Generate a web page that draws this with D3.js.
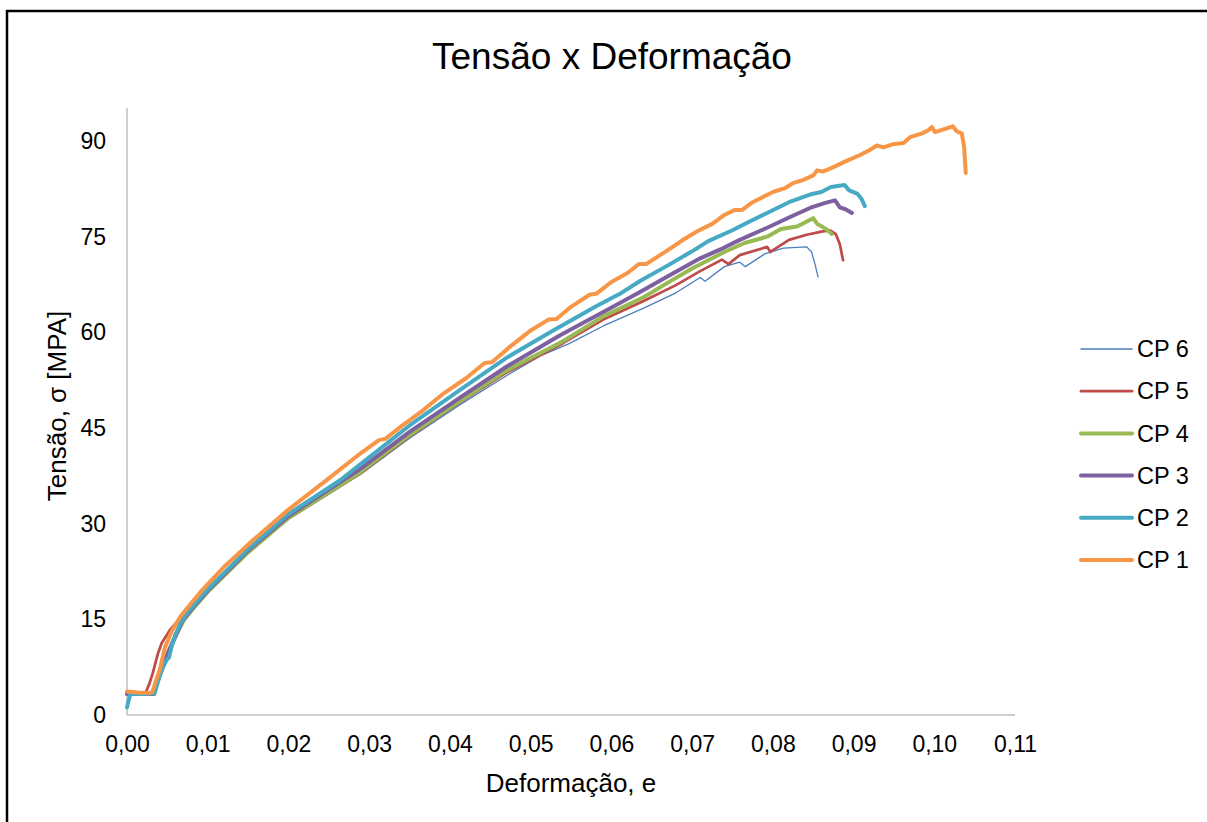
<!DOCTYPE html>
<html>
<head>
<meta charset="utf-8">
<script src="https://cdn.jsdelivr.net/npm/d3@7"></script>
<style>
  html, body { margin: 0; padding: 0; background: #fff; }
  svg { display: block; }
  text { font-family: "Liberation Sans", Arial, sans-serif; fill: #000; }
</style>
</head>
<body>
<svg id="chart" width="1207" height="822"></svg>
<script>
// Stress–strain curves for six specimens: [strain, stress in MPa]
const cp1 = [
  [0.0000,3.7],[0.0016,3.5],[0.0031,3.5],[0.0036,5.4],[0.0041,7.3],[0.0047,10.6],[0.0056,13.3],[0.0066,15.4],
  [0.0080,17.6],[0.0094,19.7],[0.0120,23.2],[0.0156,27.4],[0.0200,32.2],[0.0248,36.9],[0.0289,41.0],[0.0312,43.1],
  [0.0320,43.3],[0.0340,45.3],[0.0365,47.6],[0.0391,50.3],[0.0420,52.8],[0.0443,55.2],[0.0452,55.3],[0.0475,57.8],
  [0.0499,60.2],[0.0522,62.0],[0.0532,62.1],[0.0550,64.0],[0.0573,65.9],[0.0582,66.1],[0.0600,67.9],[0.0620,69.3],
  [0.0634,70.7],[0.0643,70.7],[0.0670,72.9],[0.0690,74.6],[0.0707,75.9],[0.0725,77.0],[0.0740,78.4],[0.0753,79.2],
  [0.0762,79.2],[0.0775,80.4],[0.0800,82.0],[0.0815,82.6],[0.0825,83.4],[0.0838,83.9],[0.0850,84.6],[0.0855,85.4],
  [0.0862,85.2],[0.0875,85.9],[0.0890,86.8],[0.0908,87.8],[0.0920,88.6],[0.0929,89.3],[0.0937,89.0],[0.0949,89.5],
  [0.0962,89.7],[0.0970,90.6],[0.0985,91.2],[0.0993,91.7],[0.0997,92.2],[0.1001,91.4],[0.1011,91.8],[0.1023,92.3],
  [0.1028,91.5],[0.1034,91.2],[0.1037,89.1],[0.1038,87.0],[0.1039,85.0]
];
const cp2 = [
  [0.0000,1.2],[0.0004,3.3],[0.0020,3.3],[0.0034,3.4],[0.0038,5.2],[0.0043,7.1],[0.0049,8.6],[0.0052,9.0],
  [0.0055,10.6],[0.0060,12.6],[0.0066,14.4],[0.0078,16.5],[0.0100,19.7],[0.0150,26.0],[0.0200,31.5],[0.0264,36.8],
  [0.0289,39.3],[0.0350,45.4],[0.0413,51.0],[0.0470,56.0],[0.0528,60.3],[0.0580,64.0],[0.0610,66.0],[0.0635,68.0],
  [0.0670,70.5],[0.0700,72.7],[0.0720,74.3],[0.0750,76.0],[0.0770,77.3],[0.0793,78.7],[0.0820,80.4],[0.0846,81.6],
  [0.0860,82.0],[0.0872,82.8],[0.0889,83.1],[0.0894,82.3],[0.0905,81.7],[0.0910,80.9],[0.0914,79.8]
];
const cp3 = [
  [0.0000,3.3],[0.0033,3.3],[0.0038,5.5],[0.0044,7.5],[0.0050,9.5],[0.0057,11.5],[0.0068,14.6],[0.0080,16.6],
  [0.0100,19.5],[0.0150,25.8],[0.0200,31.2],[0.0272,37.2],[0.0289,38.6],[0.0350,44.4],[0.0413,49.8],[0.0470,54.6],
  [0.0536,59.5],[0.0590,63.2],[0.0635,66.3],[0.0670,68.8],[0.0710,71.6],[0.0735,73.0],[0.0759,74.5],[0.0793,76.4],
  [0.0820,78.0],[0.0846,79.5],[0.0865,80.3],[0.0877,80.7],[0.0883,79.6],[0.0890,79.3],[0.0898,78.7]
];
const cp4 = [
  [0.0000,3.3],[0.0034,3.3],[0.0039,5.5],[0.0045,7.6],[0.0052,10.0],[0.0060,12.3],[0.0070,14.8],[0.0082,16.7],
  [0.0100,19.3],[0.0150,25.5],[0.0200,30.9],[0.0276,37.0],[0.0289,38.1],[0.0350,43.9],[0.0413,49.3],[0.0470,54.0],
  [0.0540,58.6],[0.0590,62.5],[0.0640,65.5],[0.0670,67.8],[0.0700,70.0],[0.0740,72.6],[0.0765,74.0],[0.0793,75.0],
  [0.0810,76.2],[0.0830,76.6],[0.0850,77.9],[0.0855,77.0],[0.0862,76.5],[0.0868,76.0],[0.0873,75.4]
];
const cp5 = [
  [0.0000,3.5],[0.0023,3.5],[0.0028,5.0],[0.0032,6.6],[0.0038,9.5],[0.0043,11.3],[0.0053,13.3],[0.0066,15.2],
  [0.0080,17.0],[0.0100,19.4],[0.0150,25.5],[0.0200,30.8],[0.0289,37.9],[0.0350,43.7],[0.0413,49.1],[0.0470,53.7],
  [0.0540,58.3],[0.0590,62.0],[0.0640,64.9],[0.0680,67.4],[0.0710,69.6],[0.0737,71.4],[0.0745,70.7],[0.0759,72.1],
  [0.0793,73.4],[0.0797,72.6],[0.0820,74.5],[0.0842,75.3],[0.0860,75.8],[0.0871,76.0],[0.0878,75.4],[0.0883,73.8],
  [0.0887,71.3]
];
const cp6 = [
  [0.0000,3.5],[0.0033,3.5],[0.0038,5.8],[0.0044,7.8],[0.0051,10.3],[0.0058,12.4],[0.0068,14.8],[0.0080,16.7],
  [0.0100,19.3],[0.0150,25.4],[0.0200,30.7],[0.0289,37.7],[0.0350,43.4],[0.0413,48.7],[0.0470,53.2],[0.0512,56.3],
  [0.0547,58.2],[0.0590,61.0],[0.0640,63.8],[0.0680,66.2],[0.0710,68.6],[0.0716,68.0],[0.0740,70.3],[0.0759,71.0],
  [0.0766,70.3],[0.0790,72.3],[0.0813,73.2],[0.0842,73.4],[0.0848,72.6],[0.0852,70.8],[0.0856,68.7]
];

const seriesNames = ["CP 6", "CP 5", "CP 4", "CP 3", "CP 2", "CP 1"];
const seriesData = [cp6, cp5, cp4, cp3, cp2, cp1];
const seriesColors = ["#4a7ebb", "#be4b48", "#98b954", "#7d60a0", "#46aac5", "#f79646"];
const seriesWidths = [1.3, 2.75, 4, 4, 4, 4];

const xTicks = [0, 0.01, 0.02, 0.03, 0.04, 0.05, 0.06, 0.07, 0.08, 0.09, 0.10, 0.11];
const yTicks = [0, 15, 30, 45, 60, 75, 90];

const svg = d3.select("#chart");

// outer frame
svg.append("rect")
  .attr("x", 7).attr("y", 11).attr("width", 1400).attr("height", 1000)
  .attr("fill", "none").attr("stroke", "#000").attr("stroke-width", 2.5);

const plot = { left: 127, right: 1015, top: 108, bottom: 715 };

const x = d3.scaleLinear().domain([0, 0.11]).range([plot.left, plot.right]);
const y = d3.scaleLinear().domain([0, 90]).range([plot.bottom, 141]);

const fmt = v => d3.format(".2f")(v).replace(".", ",");

// axes
const xAxis = svg.append("g")
  .attr("transform", `translate(0,${plot.bottom})`)
  .call(d3.axisBottom(x).tickValues(xTicks).tickFormat(fmt).tickSize(0).tickPadding(21));
const yAxis = svg.append("g")
  .attr("transform", `translate(${plot.left},0)`)
  .call(d3.axisLeft(y).tickValues(yTicks).tickFormat(d3.format("d")).tickSize(0).tickPadding(21));

[xAxis, yAxis].forEach(g => {
  g.select(".domain").remove();
  g.selectAll("text").style("font-size", "23px").style("font-family", '"Liberation Sans", Arial, sans-serif').attr("fill", "#000");
});

svg.append("line")
  .attr("x1", plot.left).attr("x2", plot.right).attr("y1", plot.bottom).attr("y2", plot.bottom)
  .attr("stroke", "#bfbfbf").attr("stroke-width", 1.5);
svg.append("line")
  .attr("x1", plot.left).attr("x2", plot.left).attr("y1", plot.top).attr("y2", plot.bottom)
  .attr("stroke", "#bfbfbf").attr("stroke-width", 1.5);

// curves
const line = d3.line().x(d => x(d[0])).y(d => y(d[1]));
seriesData.forEach((data, i) => {
  svg.append("path")
    .datum(data)
    .attr("d", line)
    .attr("fill", "none")
    .attr("stroke", seriesColors[i])
    .attr("stroke-width", seriesWidths[i])
    .attr("stroke-linejoin", "round")
    .attr("stroke-linecap", "round");
});

// titles
svg.append("text")
  .attr("x", 612).attr("y", 69)
  .attr("text-anchor", "middle")
  .style("font-size", "37px")
  .text("Tensão x Deformação");

svg.append("text")
  .attr("x", 571).attr("y", 792)
  .attr("text-anchor", "middle")
  .style("font-size", "26px")
  .text("Deformação, e");

svg.append("text")
  .attr("transform", "translate(66,406) rotate(-90)")
  .attr("text-anchor", "middle")
  .style("font-size", "26px")
  .text("Tensão, σ [MPA]");

// legend
const legend = svg.append("g");
seriesNames.forEach((name, i) => {
  const cy = 349 + i * 42.2;
  legend.append("line")
    .attr("x1", 1081).attr("x2", 1132).attr("y1", cy).attr("y2", cy)
    .attr("stroke", seriesColors[i]).attr("stroke-width", seriesWidths[i])
    .attr("stroke-linecap", "round");
  legend.append("text")
    .attr("x", 1137).attr("y", cy)
    .attr("dy", "0.35em")
    .style("font-size", "23.5px")
    .text(name);
});
</script>
</body>
</html>
